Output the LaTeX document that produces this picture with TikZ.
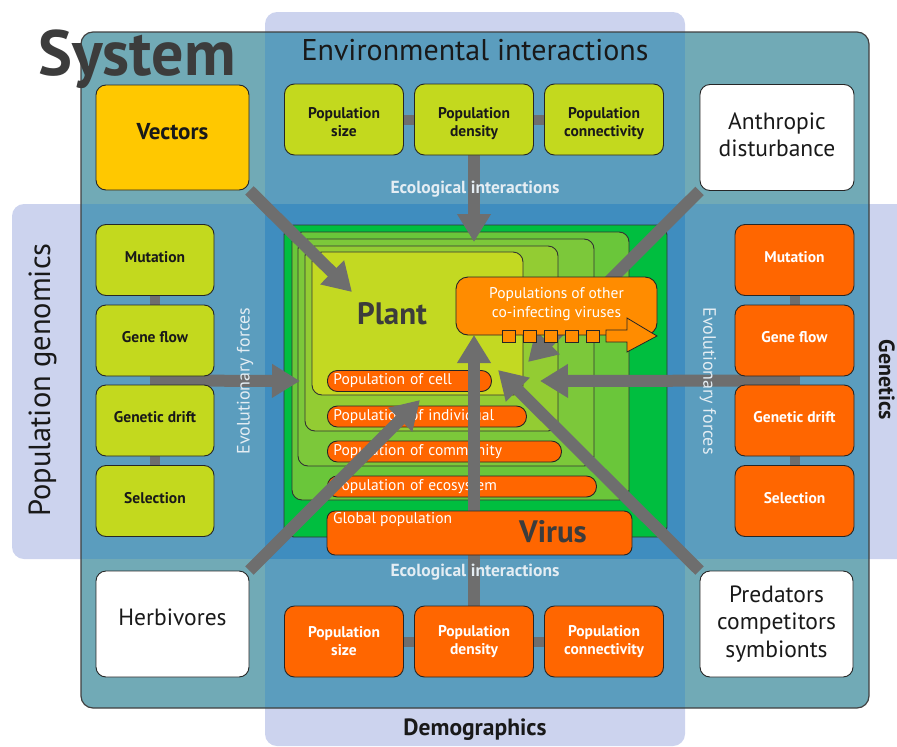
\documentclass[tikz,border=0pt]{standalone}
\usepackage{fontspec}
\setmainfont{PT Sans}
\usetikzlibrary{arrows.meta,calc}
\definecolor{lav}{HTML}{CCD3EE}
\definecolor{sysc}{HTML}{71AAB6}
\definecolor{bandin}{HTML}{5B9DBE}
\definecolor{inter}{HTML}{3F8DBF}
\definecolor{ygreen}{HTML}{C3D91E}
\definecolor{vorange}{HTML}{FF6600}
\definecolor{lorange}{HTML}{FF8C00}
\definecolor{vyellow}{HTML}{FFC800}
\definecolor{agray}{HTML}{6E6E6E}
\definecolor{dgray}{HTML}{3C3C3C}
\definecolor{gA}{HTML}{00BE3F}
\definecolor{gB}{HTML}{6AC63A}
\definecolor{gC}{HTML}{7CC83A}
\definecolor{gD}{HTML}{93CC33}
\definecolor{gE}{HTML}{C3D922}
\definecolor{lbl}{HTML}{E4EDF3}
\newcommand\fsz[2]{\fontsize{#1}{#2}\selectfont}
\newcommand\shiftv[2]{\raisebox{#1}[\height][\depth]{#2}}
\newcommand\twoline[2]{\shiftv{-4pt}{\begin{tabular}{@{}c@{}}#1\\#2\end{tabular}}}
\pgfdeclarelayer{bg}
\pgfdeclarelayer{nest}
\pgfdeclarelayer{arr}
\pgfsetlayers{bg,nest,arr,main}
\tikzset{
  box/.style={draw=black!85, line width=0.9pt, rounded corners=10pt, inner sep=0pt, align=center},
  gbox/.style={box, fill=ygreen, text=black!90, font=\bfseries\fsz{15.5}{18}, minimum width=119pt, minimum height=71pt},
  obox/.style={box, fill=vorange, text=white, font=\bfseries\fsz{15.5}{18}, minimum width=119pt, minimum height=71pt},
  wbox/.style={box, fill=white, text=black!90, font=\fsz{23.5}{27.5}, minimum width=154pt, minimum height=106pt},
  conn/.style={draw=agray, line width=10pt},
  garrow/.style={draw=agray, line width=12pt, -{Triangle[width=32pt,length=28pt]}},
  nestbox/.style={draw=black!80, line width=0.9pt, rounded corners=10pt},
  pill/.style={draw=black!85, line width=0.9pt, fill=vorange, rounded corners=10pt, anchor=west,
    minimum height=21pt, inner xsep=6pt, inner ysep=0pt, text=white, font=\fsz{15.5}{16}, align=left},
  sq/.style={draw=black!85, line width=0.8pt, fill=lorange},
  lab/.style={inner sep=0pt},
}
\begin{document}
\begin{tikzpicture}[x=1pt,y=-1pt]
\useasboundingbox (0,0) rectangle (897,747);

% ---------- background bands and system ----------
\begin{pgfonlayer}{bg}
\fill[lav, rounded corners=12pt] (265,12) rectangle (685,746);
\fill[lav, rounded corners=12pt] (12,204) rectangle (930,559);
\fill[sysc, rounded corners=12pt] (81,32) rectangle (869,708);
\begin{scope}
  \clip[rounded corners=12pt] (81,32) rectangle (869,708);
  \fill[bandin] (265,0) rectangle (685,747);
  \fill[bandin] (0,204) rectangle (897,559);
  \fill[inter] (265,204) rectangle (685,559);
\end{scope}
\draw[draw=black!75, line width=1.2pt, rounded corners=12pt] (81,32) rectangle (869,708);
\end{pgfonlayer}

% ---------- nested plant levels and pills ----------
\begin{pgfonlayer}{nest}
\draw[nestbox, fill=gA] (284,225) rectangle (667,537);
\draw[nestbox, fill=gB] (292,232) rectangle (629,500);
\draw[nestbox, fill=gC] (298,239) rectangle (594,466);
\draw[nestbox, fill=gD] (305,246) rectangle (558,431);
\draw[nestbox, fill=gE] (312,252) rectangle (523,395);
\node[pill, minimum width=164pt, text width=152pt] (pcell) at (327,381) {Population of cell};
\node[pill, minimum width=199pt, text width=187pt] (pind) at (327,416.5) {Population of individual};
\node[pill, minimum width=234pt, text width=222pt] (pcom) at (327,451.5) {Population of community};
\node[pill, minimum width=269pt, text width=257pt] (peco) at (327,486.5) {Population of ecosystem};
\end{pgfonlayer}

% ---------- outer boxes ----------
\node[box, fill=vyellow, text=black!90, font=\bfseries\fsz{23}{26}, minimum width=153pt, minimum height=105pt] (vec) at (172.5,137.5) {\shiftv{6pt}{Vectors}};
\node[wbox] (anth) at (777,137.5) {\begin{tabular}{@{}c@{}}Anthropic\\disturbance\end{tabular}};
\node[wbox, minimum width=153pt] (herb) at (172.5,624) {\shiftv{7pt}{Herbivores}};
\node[wbox, minimum width=153pt] (pred) at (776.5,624) {Predators\\competitors\\symbionts};

\node[gbox] (tsize) at (344,119.5) {\twoline{Population}{size}};
\node[gbox] (tden) at (474,119.5) {\twoline{Population}{density}};
\node[gbox] (tcon) at (604,119.5) {\twoline{Population}{connectivity}};

\node[obox] (bsize) at (344,641.5) {Population\\size};
\node[obox] (bden) at (474,641.5) {Population\\density};
\node[obox] (bcon) at (604,641.5) {Population\\connectivity};

\node[gbox, minimum width=118pt] (lmut) at (155,260) {\shiftv{3pt}{Mutation}};
\node[gbox, minimum width=118pt] (lgf) at (155,340.5) {\shiftv{3pt}{Gene flow}};
\node[gbox, minimum width=118pt] (lgd) at (155,420.5) {\shiftv{3pt}{Genetic drift}};
\node[gbox, minimum width=118pt] (lsel) at (155,501) {\shiftv{3pt}{Selection}};

\node[obox] (rmut) at (794.5,260) {\shiftv{3pt}{Mutation}};
\node[obox] (rgf) at (794.5,340.5) {\shiftv{3pt}{Gene flow}};
\node[obox] (rgd) at (794.5,420.5) {\shiftv{3pt}{Genetic drift}};
\node[obox] (rsel) at (794.5,501) {\shiftv{3pt}{Selection}};

% ---------- virus and co-infecting boxes ----------
\node[box, fill=vorange, rounded corners=8pt, minimum width=305pt, minimum height=44pt] (virus) at (479.5,533) {};
\node[lab, anchor=west, text=white, font=\fsz{15.5}{16}] (glob) at (333,520) {Global population};
\node[lab, text=dgray, font=\bfseries\fsz{31}{33}] (vlab) at (553,532) {Virus};
\node[lab, text=dgray, font=\bfseries\fsz{31}{33}] (plab) at (392,314) {Plant};

\node[box, fill=lorange, rounded corners=12pt, minimum width=201pt, minimum height=58pt, text=white, font=\fsz{15.5}{19}] (coinf) at (556.5,306) {\shiftv{2pt}{\begin{tabular}{@{}c@{}}Populations of other\\co-infecting viruses\end{tabular}}};
\foreach \x in {502,523,544,565,586} \draw[sq] (\x,330) rectangle ++(13,12);
\draw[sq, line join=miter] (606,330) -- (627,330) -- (627,318) -- (657,336) -- (627,352) -- (627,342) -- (606,342) -- cycle;

% ---------- connectors and arrows ----------
\coordinate (tVec) at (352,292);
\coordinate (tAnth) at (528,362);
\coordinate (tHerb) at (420,400);
\coordinate (tPred) at (498,370);
\coordinate (tTop) at (474,242);
\coordinate (tBot) at (474,335);
\coordinate (tEL) at (300,381);
\coordinate (tER) at (540,381);
\begin{pgfonlayer}{arr}
\draw[conn] (tsize) -- (tden) -- (tcon);
\draw[conn] (bsize) -- (bden) -- (bcon);
\draw[conn] (lmut) -- (lgf) -- (lgd) -- (lsel);
\draw[conn] (rmut) -- (rgf) -- (rgd) -- (rsel);
\draw[garrow] (vec.south east) -- (tVec);
\draw[garrow] (anth.south west) -- (tAnth);
\draw[garrow] (herb.north east) -- (tHerb);
\draw[garrow] (pred.north west) -- (tPred);
\draw[garrow] (tden) -- (tTop);
\draw[garrow] (bden) -- (tBot);
\draw[garrow] ($(lgf.south)!0.5!(lgd.north)+(-3,0)$) -- (tEL);
\draw[garrow] ($(rgf.south)!0.5!(rgd.north)+(5,0)$) -- (tER);
\end{pgfonlayer}

% ---------- titles and labels ----------
\node[lab, anchor=base west, text=dgray, font=\bfseries\fsz{64}{66}] (sys) at (38,75) {System};
\node[lab, text=black!90, font=\fsz{30}{32}] (env) at (475,50) {Environmental interactions};
\node[lab, text=black!90, font=\bfseries\fsz{23.5}{25}] (demo) at (475,730) {Demographics};
\node[lab, anchor=base, rotate=90, text=black!90, font=\fsz{30.5}{32}] (popgen) at (50,380) {Population genomics};
\node[lab, anchor=base, rotate=-90, text=black!90, font=\bfseries\fsz{22}{24}] (genet) at (879,380) {Genetics};
\node[lab, rotate=90, text=lbl, font=\fsz{18}{20}] (evl) at (245,381) {Evolutionary forces};
\node[lab, rotate=-90, text=lbl, font=\fsz{18}{20}] (evr) at (708,381) {Evolutionary forces};
\node[lab, text=lbl, font=\bfseries\fsz{17.5}{19}] (ecot) at (475,189) {Ecological interactions};
\node[lab, text=lbl, font=\bfseries\fsz{17.5}{19}] (ecob) at (475,572) {Ecological interactions};
\end{tikzpicture}
\end{document}
